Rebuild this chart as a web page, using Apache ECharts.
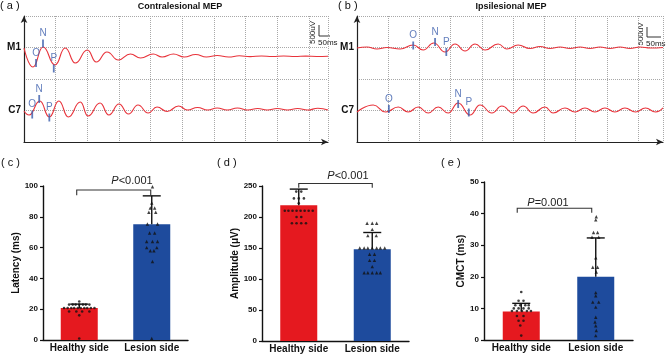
<!DOCTYPE html>
<html>
<head>
<meta charset="utf-8">
<script src="https://cdn.jsdelivr.net/npm/echarts@6/dist/echarts.min.js"></script>
<style>
  html, body { margin: 0; padding: 0; background: #fff; }
  #chart { width: 669px; height: 355px; }
</style>
</head>
<body>
<div id="chart"></div>
<script>
// MEP traces, [time ms, amplitude uV]; M1 sits on the 1500 line, C7 on the 500 line
const contraM1 = [[0,1490],[14,1190],[30,1508],[49,1222],[65,1492],[81,1254],[100,1460],[114,1270],[131,1429],[149,1302],[168,1397],[184,1333],[204,1397],[218,1349],[236,1397],[253,1349],[271,1389],[288,1349],[305,1373],[323,1349],[340,1368],[357,1355],[375,1366],[392,1356],[410,1364],[428,1357],[445,1363],[462,1358],[480,1361]]
const contraC7 = [[0,492],[8,429],[25,651],[40,397],[55,651],[70,397],[89,635],[101,413],[120,619],[134,429],[150,603],[165,444],[180,587],[196,460],[210,556],[226,484],[244,571],[258,508],[274,548],[290,508],[305,540],[321,508],[337,540],[353,508],[369,532],[384,508],[400,532],[416,508],[432,532],[448,508],[464,536],[480,508]]
const ipsiM1 = [[0,1492],[16,1508],[32,1476],[48,1500],[69,1476],[90,1540],[106,1460],[123,1571],[141,1429],[157,1556],[173,1444],[189,1556],[205,1460],[226,1556],[240,1476],[258,1540],[277,1484],[293,1516],[309,1484],[325,1508],[341,1484],[357,1508],[373,1484],[389,1508],[405,1484],[421,1508],[437,1484],[453,1508],[470,1492],[490,1500]]
const ipsiC7 = [[0,476],[26,587],[46,476],[66,556],[82,476],[98,556],[114,460],[130,556],[146,460],[162,619],[181,429],[197,587],[216,460],[232,571],[250,460],[266,571],[282,460],[301,556],[314,460],[333,540],[349,476],[365,540],[381,476],[397,540],[413,476],[429,540],[446,476],[462,540],[478,476],[490,540]]

// O / N / P latency markers, [time ms, amplitude uV, label]
const contraM1Marks = [[19,1254,'O'],[30,1563,'N'],[47,1167,'P']]
const contraC7Marks = [[13,436,'O'],[24,683,'N'],[40,389,'P']]
const ipsiM1Marks = [[90,1532,'O'],[125,1587,'N'],[143,1429,'P']]
const ipsiC7Marks = [[51,524,'O'],[162,603,'N'],[179,468,'P']]

const sides = ['Healthy side', 'Lesion side']

// bar means and mean + SD
const latencyMean = [20.7, 75.2]
const latencyUpper = [23.3, 93.6]
const amplitudeMean = [219, 148]
const amplitudeUpper = [245, 175]
const cmctMean = [9.0, 20.0]
const cmctUpper = [11.6, 32.3]

// individual subjects, [horizontal jitter, value]
const latencyHealthy = [[0,25],[-0.14,23],[-0.09,23],[-0.05,23],[0,23],[0.05,23],[0.09,23],[0.14,23],[-0.21,20.8],[-0.16,20.8],[-0.11,20.8],[-0.07,20.8],[-0.02,20.8],[0.02,20.8],[0.07,20.8],[0.11,20.8],[0.16,20.8],[0.21,20.8],[-0.14,18.5],[-0.04,18.5],[0.04,18.5],[0.14,18.5],[0,16],[0,1]]
const latencyLesion = [[0.01,99.5],[0,89],[-0.02,85.7],[0.04,85.7],[-0.04,83],[0.055,83],[-0.06,75.3],[0.08,75.3],[-0.03,69.5],[0.04,69.5],[-0.07,64],[0.01,64],[0.08,64],[-0.07,60],[0.07,60],[-0.02,58],[0.03,58],[0.01,51],[0,1]]
const amplitudeHealthy = [[-0.034,241],[0.034,241],[-0.066,230],[0,230],[0.07,230],[0,222],[-0.19,210],[-0.14,210],[-0.085,210],[-0.03,210],[0.025,210],[0.08,210],[0.135,210],[0.19,210],[-0.03,200],[0.034,200],[-0.093,190],[-0.03,190],[0.034,190],[0.098,190]]
const amplitudeLesion = [[-0.07,190],[0,190],[0.06,190],[0,180],[-0.06,170],[0.055,170],[-0.17,150],[-0.11,150],[-0.06,150],[0,150],[0.06,150],[0.11,150],[0.17,150],[-0.036,140],[0.03,140],[-0.036,130],[0.03,130],[0,120],[-0.11,110],[-0.06,110],[0,110],[0.06,110],[0.11,110]]
const cmctHealthy = [[0,15.2],[-0.036,12.4],[0.03,12.4],[-0.08,11],[-0.013,11],[0.054,11],[0.1,11],[-0.1,10],[-0.036,10],[0.03,10],[0.1,10],[-0.125,9.2],[-0.058,9.2],[0.01,9.2],[0.076,9.2],[0.13,9.2],[-0.058,7.6],[0.03,7.6],[-0.036,6.1],[0.03,6.1],[-0.013,4.6],[0,1.4]]
const cmctLesion = [[0.007,39],[0,38],[-0.03,34],[0.025,34],[-0.05,32.5],[0.04,32.5],[0,26],[-0.04,23],[0.025,23],[0.007,21.5],[0,15],[0,14],[-0.04,12],[0.04,12],[0,10.4],[0,7.2],[-0.01,5.7],[0,4.5],[0.007,3],[0,1.4]]

// significance brackets, [left x, right x, top, tick end]
const latencyBracket = [[-0.035, 0.986, 97.4, 94]]
const amplitudeBracket = [[0, 1, 254, 247]]
const cmctBracket = [[-0.054, 0.946, 41.7, 40.3]]

const FONT = 'Liberation Sans, Arial, sans-serif'
const TRACE = '#e8333b'
const MARK = '#3a5cab'
const RED = '#e5191f'
const BLUE = '#1e4b9d'
const INK = '#111'

const chart = echarts.init(document.getElementById('chart'))

const grids = [
  { left: 24, top: 16, width: 304, height: 126 },
  { left: 357, top: 16, width: 306, height: 126 },
  { left: 43, top: 186, width: 145, height: 154 },
  { left: 262, top: 186, width: 147, height: 155 },
  { left: 484, top: 182, width: 149, height: 158 },
]

const dotted = { show: true, lineStyle: { color: '#a8a8a8', type: 'dotted', width: 1 } }
const arrowLine = { show: true, onZero: false, symbol: ['none', 'arrow'], symbolSize: [5, 7], lineStyle: { color: '#222', width: 1.2 } }

function traceX(gridIndex, max) {
  return {
    type: 'value', gridIndex, min: 0, max, interval: 50,
    axisLine: arrowLine, axisTick: { show: false }, axisLabel: { show: false },
    splitLine: dotted,
  }
}
function traceY(gridIndex) {
  return {
    type: 'value', gridIndex, min: 0, max: 2000, interval: 500,
    axisLine: arrowLine, axisTick: { show: false },
    axisLabel: {
      formatter: (v) => (v === 1500 ? 'M1' : v === 500 ? 'C7' : ''),
      fontFamily: FONT, fontWeight: 'bold', fontSize: 10, color: INK, margin: 3,
    },
    splitLine: dotted,
  }
}
function catX(gridIndex) {
  return {
    type: 'category', gridIndex, data: sides,
    axisLine: { onZero: false, lineStyle: { color: INK, width: 1.4 } }, axisTick: { show: false },
    axisLabel: { interval: 0, fontFamily: FONT, fontWeight: 'bold', fontSize: 10, color: INK, margin: 3 },
  }
}
function valX(gridIndex) {
  return { type: 'value', gridIndex, min: -0.5, max: 1.5, show: false }
}
function barY(gridIndex, max, interval, name, nameGap) {
  return {
    type: 'value', gridIndex, min: 0, max, interval, name, nameLocation: 'middle', nameGap,
    nameTextStyle: { fontFamily: FONT, fontWeight: 'bold', fontSize: 10, color: INK },
    axisLine: { show: true, onZero: false, lineStyle: { color: INK, width: 1.4 } },
    axisTick: { show: true, length: 3, lineStyle: { color: INK, width: 1.2 } },
    axisLabel: { fontFamily: FONT, fontWeight: 'bold', fontSize: 8, color: INK, margin: 5 },
    splitLine: { show: false },
  }
}

function traceSeries(data, xi) {
  return {
    type: 'line', xAxisIndex: xi, yAxisIndex: xi, data, showSymbol: false,
    smooth: 0.5, smoothMonotone: 'x', silent: true,
    lineStyle: { color: TRACE, width: 1.1 },
  }
}
function markSeries(data, xi) {
  return {
    type: 'scatter', xAxisIndex: xi, yAxisIndex: xi, data, symbol: 'rect', symbolSize: [1.8, 8],
    itemStyle: { color: MARK }, z: 5, silent: true,
    label: { show: true, position: 'top', distance: 1, formatter: (p) => p.value[2], color: MARK, fontFamily: FONT, fontSize: 10 },
  }
}

function errorItem(params, api) {
  const x = api.value(0)
  const base = api.coord([x, api.value(1)])
  const top = api.coord([x, api.value(2)])
  const style = { stroke: INK, lineWidth: 1.4 }
  return {
    type: 'group',
    children: [
      { type: 'line', shape: { x1: base[0], y1: base[1], x2: top[0], y2: top[1] }, style },
      { type: 'line', shape: { x1: top[0] - 9, y1: top[1], x2: top[0] + 9, y2: top[1] }, style },
    ],
  }
}
function bracketRenderer(rows) {
  return (params, api) => {
    const b = rows[params.dataIndex]
    const pts = [
      api.coord([b[0], b[3]]),
      api.coord([b[0], b[2]]),
      api.coord([b[1], b[2]]),
      api.coord([b[1], b[3]]),
    ]
    return { type: 'polyline', shape: { points: pts }, style: { stroke: '#333', lineWidth: 1.1, fill: null } }
  }
}

function barPanel(catIdx, valIdx, yIdx, mean, upper, healthy, lesion, bracket) {
  return [
    {
      type: 'bar', xAxisIndex: catIdx, yAxisIndex: yIdx, barWidth: 37, silent: true,
      data: [
        { value: mean[0], itemStyle: { color: RED } },
        { value: mean[1], itemStyle: { color: BLUE } },
      ],
    },
    {
      type: 'custom', xAxisIndex: valIdx, yAxisIndex: yIdx, renderItem: errorItem, z: 4, silent: true,
      data: mean.map((m, i) => [i, m, upper[i]]),
    },
    {
      type: 'scatter', xAxisIndex: valIdx, yAxisIndex: yIdx, symbol: 'circle', symbolSize: 2.6, z: 5, silent: true,
      itemStyle: { color: INK }, data: healthy.map((p) => [p[0], p[1]]),
    },
    {
      type: 'scatter', xAxisIndex: valIdx, yAxisIndex: yIdx, symbol: 'triangle', symbolSize: 3.4, z: 5, silent: true,
      itemStyle: { color: INK }, data: lesion.map((p) => [1 + p[0], p[1]]),
    },
    {
      type: 'custom', xAxisIndex: valIdx, yAxisIndex: yIdx, renderItem: bracketRenderer(bracket), clip: false, z: 4, silent: true,
      data: bracket.map((b) => [(b[0] + b[1]) / 2, b[2]]),
    },
  ]
}

function label(text, x, y, extra) {
  return { type: 'text', x, y, style: Object.assign({ text, fontFamily: FONT, fontSize: 11, fill: INK }, extra || {}), silent: true }
}
function pText(text, x, y) {
  return {
    type: 'text', x, y, silent: true,
    style: {
      text, align: 'center', verticalAlign: 'middle', fontFamily: FONT, fontSize: 11, fill: '#222',
      rich: { i: { fontStyle: 'italic', fontFamily: FONT, fontSize: 11, fill: '#222' } },
    },
  }
}
function scaleBar(x, y0, y1, x1) {
  return [
    { type: 'polyline', shape: { points: [[x, y0], [x, y1], [x1, y1]] }, style: { stroke: '#333', lineWidth: 1, fill: null }, silent: true },
    { type: 'text', x: x - 6, y: (y0 + y1) / 2 + 2, rotation: Math.PI / 2, silent: true,
      style: { text: '500uV', align: 'center', verticalAlign: 'middle', fontFamily: FONT, fontSize: 8, fill: '#222' } },
    { type: 'text', x: x - 1, y: y1 + 7, silent: true,
      style: { text: '50ms', align: 'left', verticalAlign: 'middle', fontFamily: FONT, fontSize: 8, fill: '#222' } },
  ]
}

chart.setOption({
  animation: false,
  backgroundColor: '#fff',
  grid: grids,
  xAxis: [traceX(0, 480), traceX(1, 490), catX(2), valX(2), catX(3), valX(3), catX(4), valX(4)],
  yAxis: [
    traceY(0), traceY(1),
    barY(2, 100, 20, 'Latency (ms)', 16),
    barY(3, 250, 50, 'Amplitude (μV)', 16),
    barY(4, 50, 10, 'CMCT (ms)', 11),
  ],
  series: [
    traceSeries(contraM1, 0), traceSeries(contraC7, 0),
    traceSeries(ipsiM1, 1), traceSeries(ipsiC7, 1),
    markSeries(contraM1Marks, 0), markSeries(contraC7Marks, 0),
    markSeries(ipsiM1Marks, 1), markSeries(ipsiC7Marks, 1),
    ...barPanel(2, 3, 2, latencyMean, latencyUpper, latencyHealthy, latencyLesion, latencyBracket),
    ...barPanel(4, 5, 3, amplitudeMean, amplitudeUpper, amplitudeHealthy, amplitudeLesion, amplitudeBracket),
    ...barPanel(6, 7, 4, cmctMean, cmctUpper, cmctHealthy, cmctLesion, cmctBracket),
  ],
  graphic: [
    label('( a )', 0, 0),
    label('( b )', 338, 0),
    label('( c )', 1, 157),
    label('( d )', 217, 157),
    label('( e )', 441, 157),
    label('Contralesional MEP', 180, 7, { align: 'center', verticalAlign: 'middle', fontWeight: 'bold', fontSize: 9 }),
    label('Ipsilesional MEP', 511, 7, { align: 'center', verticalAlign: 'middle', fontWeight: 'bold', fontSize: 9 }),
    ...scaleBar(319, 25, 36, 330),
    ...scaleBar(647, 27, 37, 661),
    pText('{i|P}<0.001', 132, 181),
    pText('{i|P}<0.001', 348, 176),
    pText('{i|P}=0.001', 548, 203),
  ],
})
</script>
</body>
</html>
